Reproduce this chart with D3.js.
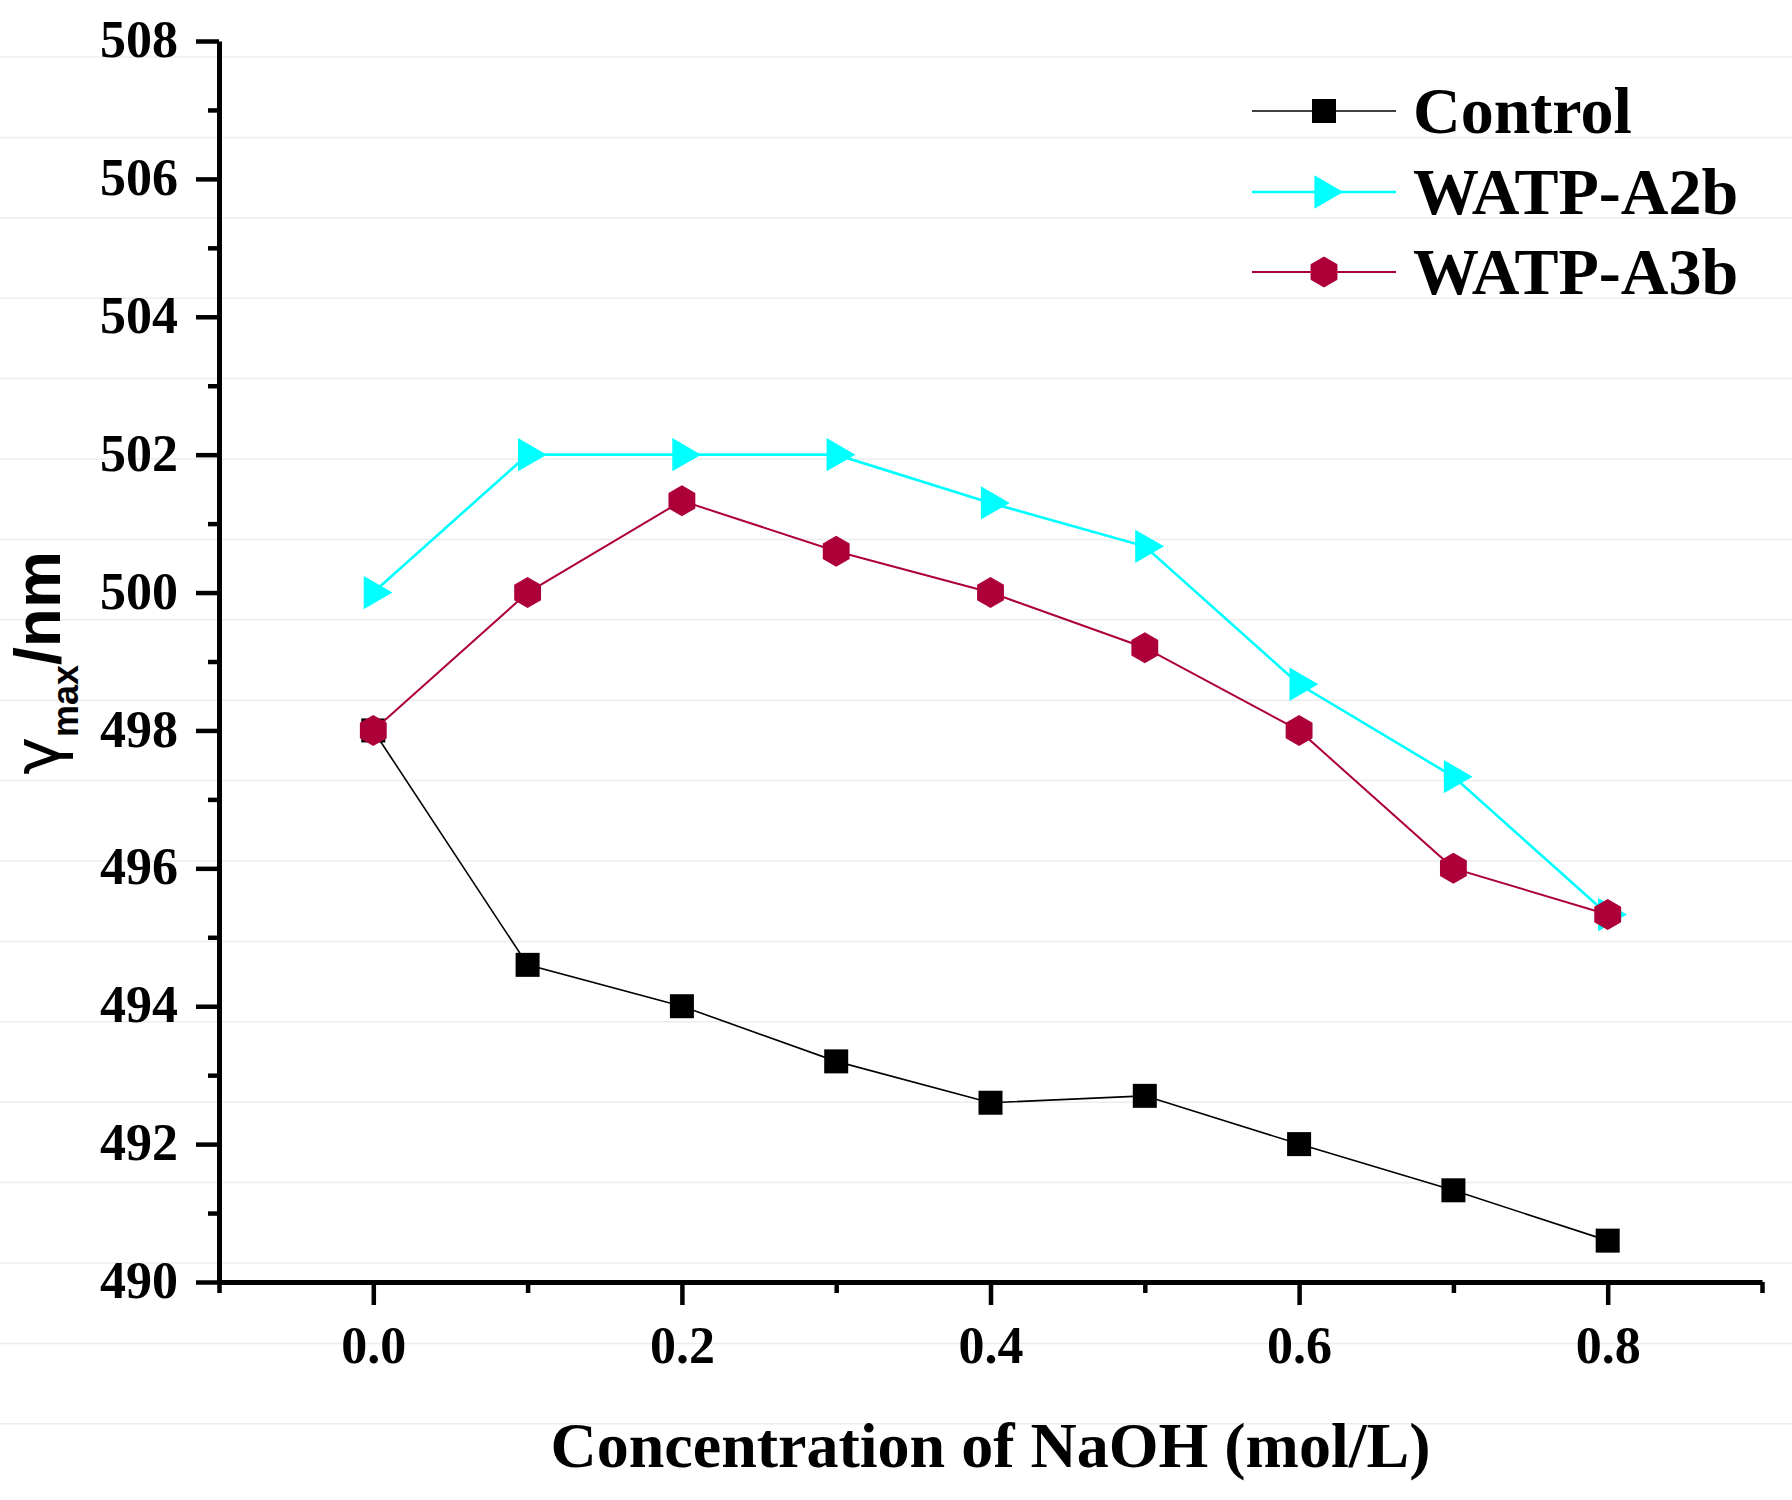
<!DOCTYPE html>
<html>
<head>
<meta charset="utf-8">
<script src="https://cdn.jsdelivr.net/npm/d3@7"></script>
<style>
  body { margin: 0; background: #fff; }
  svg { display: block; }
</style>
</head>
<body>
<div id="chart"></div>
<script>
/* DATA */
const naoh = [0.0, 0.1, 0.2, 0.3, 0.4, 0.5, 0.6, 0.7, 0.8];
const control = [498.0, 494.6, 494.0, 493.2, 492.6, 492.7, 492.0, 491.33, 490.6];
const watpA2b = [500.0, 502.0, 502.0, 502.0, 501.3, 500.67, 498.67, 497.33, 495.33];
const watpA3b = [498.0, 500.0, 501.33, 500.6, 500.0, 499.2, 498.0, 496.0, 495.33];
const seriesNames = ["Control", "WATP-A2b", "WATP-A3b"];
const xTicks = [0.0, 0.2, 0.4, 0.6, 0.8];
const yTicks = [490, 492, 494, 496, 498, 500, 502, 504, 506, 508];

/* CONSTANTS */
const width = 1792, height = 1500;
const margin = { top: 41, right: 30, bottom: 218, left: 219 };
const serif = "'Liberation Serif', 'Times New Roman', serif";
const sans = "'Liberation Sans', Arial, sans-serif";

// hexagon symbol, pointy top
const hexagon = {
  draw(ctx, size) {
    const r = Math.sqrt(size / (1.5 * Math.sqrt(3)));
    for (let i = 0; i < 6; i++) {
      const a = (-90 + 60 * i) * Math.PI / 180;
      i === 0 ? ctx.moveTo(r * Math.cos(a), r * Math.sin(a)) : ctx.lineTo(r * Math.cos(a), r * Math.sin(a));
    }
    ctx.closePath();
  }
};

const series = [
  { name: seriesNames[0], values: control, color: "#000000", lw: 1.6, sym: d3.symbol(d3.symbolSquare, 24 * 24), rot: 0 },
  { name: seriesNames[1], values: watpA2b, color: "#00ffff", lw: 2.6, sym: d3.symbol(d3.symbolTriangle, 480), rot: 90 },
  { name: seriesNames[2], values: watpA3b, color: "#ad0039", lw: 2, sym: d3.symbol(hexagon, 1.5 * Math.sqrt(3) * 15.5 * 15.5), rot: 0 }
];

const svg = d3.select("#chart").append("svg")
  .attr("width", width)
  .attr("height", height);

svg.append("rect").attr("width", width).attr("height", height).attr("fill", "#fff");

// faint background rules seen in the picture
svg.append("g").selectAll("line")
  .data(d3.range(18))
  .join("line")
  .attr("x1", 0).attr("x2", width)
  .attr("y1", k => 57 + k * 80.4).attr("y2", k => 57 + k * 80.4)
  .attr("stroke", "#ececec")
  .attr("stroke-width", 1.5);

const x = d3.scaleLinear().domain([-0.1, 0.9]).range([margin.left, width - margin.right]);
const y = d3.scaleLinear().domain([490, 508]).range([height - margin.bottom, margin.top]);

/* AXES */
const xMinor = d3.range(-0.1, 0.95, 0.2).map(v => Math.round(v * 10) / 10);
const yMinor = d3.range(491, 508, 2);

const xAxisG = svg.append("g").attr("transform", `translate(0,${y(490)})`);
xAxisG.call(d3.axisBottom(x).tickValues(xMinor).tickSize(11).tickFormat("").tickSizeOuter(0));
const xMajorG = svg.append("g").attr("transform", `translate(0,${y(490)})`)
  .call(d3.axisBottom(x).tickValues(xTicks).tickSize(23).tickPadding(21).tickFormat(d3.format(".1f")).tickSizeOuter(0));
xMajorG.select(".domain").remove();

const yAxisG = svg.append("g").attr("transform", `translate(${x(-0.1)},0)`);
yAxisG.call(d3.axisLeft(y).tickValues(yMinor).tickSize(11).tickFormat("").tickSizeOuter(0));
const yMajorG = svg.append("g").attr("transform", `translate(${x(-0.1)},0)`)
  .call(d3.axisLeft(y).tickValues(yTicks).tickSize(23).tickPadding(18).tickFormat(d3.format("d")).tickSizeOuter(0));
yMajorG.select(".domain").remove();

svg.selectAll(".domain").attr("stroke", "#000").attr("stroke-width", 5);
svg.selectAll(".tick line").attr("stroke", "#000").attr("stroke-width", 4.5);
svg.selectAll(".tick text")
  .attr("fill", "#000")
  .style("font-family", serif)
  .style("font-weight", "bold")
  .style("font-size", "52px");
yMajorG.selectAll(".tick text").attr("dy", "0.3em");
xMajorG.selectAll(".tick text").attr("dy", "0.71em");

/* SERIES */
series.forEach(s => {
  const pts = naoh.map((v, i) => [v, s.values[i]]);
  svg.append("path")
    .datum(pts)
    .attr("fill", "none")
    .attr("stroke", s.color)
    .attr("stroke-width", s.lw)
    .attr("d", d3.line().x(d => x(d[0])).y(d => y(d[1])));
  svg.append("g").selectAll("path")
    .data(pts)
    .join("path")
    .attr("d", s.sym)
    .attr("transform", d => `translate(${x(d[0])},${y(d[1])}) rotate(${s.rot})`)
    .attr("fill", s.color);
});

/* LEGEND */
const legendRows = [111, 192, 272];
const legend = svg.append("g");
series.forEach((s, i) => {
  const g = legend.append("g").attr("transform", `translate(0,${legendRows[i]})`);
  g.append("line").attr("x1", 1252).attr("x2", 1396).attr("y1", 0).attr("y2", 0)
    .attr("stroke", s.color).attr("stroke-width", s.lw);
  g.append("path").attr("d", s.sym).attr("transform", `translate(1324,0) rotate(${s.rot})`).attr("fill", s.color);
  g.append("text").attr("x", 1413).attr("y", 22)
    .style("font-family", serif).style("font-weight", "bold").style("font-size", "66px")
    .text(s.name);
});

/* AXIS TITLES */
svg.append("text")
  .attr("x", (x(-0.1) + x(0.9)) / 2)
  .attr("y", 1467)
  .attr("text-anchor", "middle")
  .style("font-family", serif).style("font-weight", "bold").style("font-size", "64px")
  .text("Concentration of NaOH (mol/L)");

const yTitle = svg.append("text")
  .attr("transform", "translate(60,663) rotate(-90)")
  .attr("text-anchor", "middle")
  .style("font-family", sans).style("font-weight", "bold").style("font-size", "64px");
yTitle.append("tspan").style("font-family", "'DejaVu Sans', sans-serif").style("font-weight", "normal").text("γ");
yTitle.append("tspan").attr("dy", 18).style("font-size", "36px").text("max");
yTitle.append("tspan").attr("dy", -18).text("/nm");
</script>
</body>
</html>
